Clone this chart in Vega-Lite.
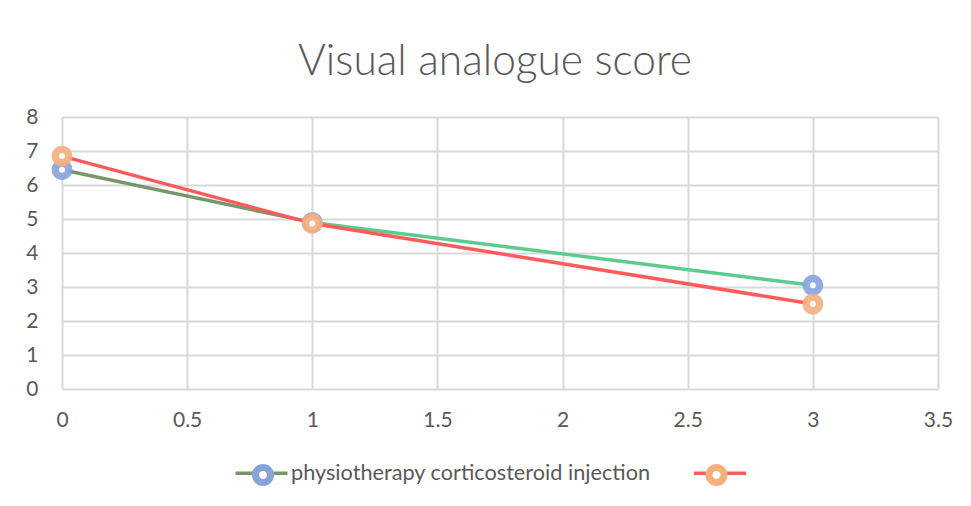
{
  "$schema": "https://vega.github.io/schema/vega-lite/v6.json",
  "width": 876,
  "height": 272,
  "autosize": {"type": "none"},
  "padding": {"left": 62, "top": 117, "right": 33, "bottom": 117},
  "background": "white",
  "title": {
    "text": "Visual analogue score",
    "fontSize": 42.5,
    "font": "Lato",
    "fontWeight": 300,
    "color": "#595959",
    "anchor": "middle",
    "offset": 23,
    "dx": -5
  },
  "config": {
    "font": "Lato",
    "view": {"stroke": null},
    "axis": {
      "domain": false,
      "ticks": false,
      "tickSize": 0,
      "grid": true,
      "gridColor": "#D9D9D9",
      "gridWidth": 2,
      "labelFont": "Lato",
      "labelFontSize": 21,
      "labelColor": "#595959",
      "labelFlush": false,
      "title": null
    }
  },
  "data": {
    "values": [
      {"series": "physiotherapy corticosteroid injection", "x": 0, "y": 6.45},
      {"series": "physiotherapy corticosteroid injection", "x": 1, "y": 4.9},
      {"series": "physiotherapy corticosteroid injection", "x": 3, "y": 3.05},
      {"series": " ", "x": 0, "y": 6.85},
      {"series": " ", "x": 1, "y": 4.87},
      {"series": " ", "x": 3, "y": 2.5}
    ]
  },
  "encoding": {
    "x": {
      "field": "x",
      "type": "quantitative",
      "scale": {"domain": [0, 3.5], "nice": false, "zero": false},
      "axis": {"values": [0, 0.5, 1, 1.5, 2, 2.5, 3, 3.5], "format": "~g", "labelPadding": 20}
    },
    "y": {
      "field": "y",
      "type": "quantitative",
      "scale": {"domain": [0, 8], "nice": false},
      "axis": {"values": [0, 1, 2, 3, 4, 5, 6, 7, 8], "labelPadding": 24}
    }
  },
  "layer": [
    {
      "transform": [
        {
          "window": [
            {"op": "lead", "field": "x", "as": "xn"},
            {"op": "lead", "field": "y", "as": "yn"}
          ],
          "groupby": ["series"],
          "sort": [{"field": "x", "order": "ascending"}]
        },
        {"filter": "datum.xn != null"}
      ],
      "mark": {"type": "rule", "strokeWidth": 3.5, "strokeCap": "round"},
      "encoding": {
        "x2": {"field": "xn"},
        "y2": {"field": "yn"},
        "stroke": {
          "condition": {"test": "datum.series !== ' ' && datum.x >= 1", "value": "#5CCB8D"},
          "field": "series",
          "type": "nominal",
          "scale": {"domain": ["physiotherapy corticosteroid injection", " "], "range": ["#77976B", "#FF5B5B"]},
          "legend": {
            "orient": "none",
            "legendX": 171.5,
            "legendY": 328,
            "direction": "horizontal",
            "title": null,
            "values": ["physiotherapy corticosteroid injection", " "],
            "symbolType": "M-1,0H1",
            "symbolSize": 2704,
            "symbolStrokeWidth": 7,
            "labelOffset": 1.5,
            "labelLimit": 0,
            "labelFontSize": 21.7,
            "labelColor": "#595959",
            "labelFont": "Lato",
            "columnPadding": 35.5,
            "encode": {"symbols": {"update": {"strokeWidth": {"value": 3.5}, "fill": {"value": "transparent"}}}}
          }
        }
      }
    },
    {
      "mark": {
        "type": "point",
        "shape": "circle",
        "filled": false,
        "fill": "white",
        "fillOpacity": 1,
        "strokeOpacity": 0.9,
        "strokeWidth": 7.5,
        "size": 180
      },
      "encoding": {
        "color": {
          "field": "series",
          "type": "nominal",
          "scale": {"domain": [" ", "physiotherapy corticosteroid injection"], "range": ["#F5AE7E", "#86A3DA"]},
          "legend": {
            "orient": "none",
            "legendX": 171.5,
            "legendY": 328,
            "direction": "horizontal",
            "title": null,
            "values": ["physiotherapy corticosteroid injection", " "],
            "labelExpr": "''",
            "symbolType": "M0.29,0A0.29,0.29 0 1 1 -0.29,0A0.29,0.29 0 1 1 0.29,0Z",
            "symbolSize": 2704,
            "symbolStrokeWidth": 7,
            "labelOffset": 1.5,
            "labelLimit": 0,
            "labelFontSize": 21.7,
            "labelFont": "Lato",
            "columnPadding": 392.5,
            "encode": {"symbols": {"update": {"fill": {"value": "white"}, "fillOpacity": {"value": 1}, "strokeOpacity": {"value": 0.9}, "strokeWidth": {"value": 7.5}, "opacity": {"value": 1}}}}
          }
        }
      }
    }
  ]
}
